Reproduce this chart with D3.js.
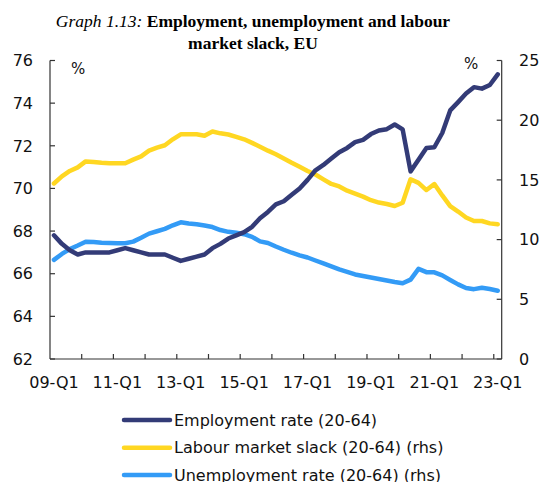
<!DOCTYPE html>
<html><head><meta charset="utf-8">
<script src="https://cdn.jsdelivr.net/npm/d3@7"></script>
<style>body{margin:0;background:#fff}svg{display:block}</style>
</head><body>
<svg id="chart" width="541" height="482"></svg>
<script>
const years = ["09","10","11","12","13","14","15","16","17","18","19","20","21","22","23"];
const quarterNames = ["Q1","Q2","Q3","Q4"];
const tickLabels = ["09-Q1","11-Q1","13-Q1","15-Q1","17-Q1","19-Q1","21-Q1","23-Q1"];
const leftTicks = [62,64,66,68,70,72,74,76];
const rightTicks = [0,5,10,15,20,25];

const employment = [67.8,67.4,67.1,66.9,67.0,67.0,67.0,67.0,67.1,67.2,67.1,67.0,66.9,66.9,66.9,66.75,
  66.6,66.7,66.8,66.9,67.2,67.4,67.65,67.8,67.95,68.2,68.6,68.9,69.25,69.4,69.7,70.0,
  70.4,70.85,71.1,71.4,71.7,71.9,72.17,72.28,72.55,72.72,72.78,73.0,72.77,70.8,71.35,71.9,
  71.93,72.6,73.66,74.05,74.45,74.75,74.68,74.85,75.35];
const slack = [14.7,15.3,15.75,16.05,16.55,16.5,16.43,16.4,16.4,16.4,16.7,16.97,17.45,17.7,17.9,18.4,
  18.82,18.82,18.82,18.7,19.05,18.9,18.8,18.6,18.4,18.1,17.78,17.45,17.15,16.8,16.44,16.1,
  15.75,15.45,15.05,14.66,14.45,14.1,13.85,13.6,13.3,13.1,12.98,12.81,13.09,15.05,14.75,14.15,
  14.65,13.7,12.8,12.35,11.85,11.56,11.56,11.36,11.28];
const unemployment = [8.3,8.8,9.2,9.5,9.82,9.8,9.73,9.72,9.7,9.7,9.83,10.15,10.5,10.7,10.9,11.2,
  11.45,11.35,11.28,11.18,11.05,10.8,10.65,10.57,10.45,10.23,9.85,9.72,9.42,9.15,8.9,8.68,
  8.5,8.25,8.0,7.75,7.5,7.3,7.08,6.95,6.83,6.7,6.58,6.45,6.34,6.65,7.55,7.27,
  7.26,7.0,6.62,6.25,5.95,5.85,5.97,5.86,5.72];

const seriesNames = ["Employment rate (20-64)","Labour market slack (20-64) (rhs)","Unemployment rate (20-64) (rhs)"];
const colors = ["#333b77","#ffd722","#339bf6"];

const categories = [];
years.forEach(y => quarterNames.forEach(q => categories.push(y + "-" + q)));
categories.length = employment.length;

const svg = d3.select("#chart");
const font = "DejaVu Sans, sans-serif";
const L = 50, R = 501.7, T = 60.5, B = 359;

const x = d3.scaleBand().domain(categories).range([L, R]).paddingInner(0).paddingOuter(0);
const yL = d3.scaleLinear().domain([62, 76]).range([B, T]);
const yR = d3.scaleLinear().domain([0, 25]).range([B, T]);
const cx = d => x(d) + x.bandwidth() / 2;

// title
const serif = "Liberation Serif, Times New Roman, serif";
const title = svg.append("text").attr("x", 253).attr("y", 27).attr("text-anchor", "middle")
  .style("font-family", serif).style("font-size", "17.5px").attr("fill", "#000");
title.append("tspan").style("font-style", "italic").text("Graph 1.13: ");
title.append("tspan").style("font-weight", "bold").text("Employment, unemployment and labour");
svg.append("text").attr("x", 253).attr("y", 49).attr("text-anchor", "middle")
  .style("font-family", serif).style("font-size", "17.5px")
  .style("font-weight", "bold").attr("fill", "#000").text("market slack, EU");

const axisColor = "#333";
const gAx = svg.append("g").attr("stroke", axisColor).attr("stroke-width", 1.2);
gAx.append("line").attr("x1", L).attr("x2", L).attr("y1", T).attr("y2", B);
gAx.append("line").attr("x1", R).attr("x2", R).attr("y1", T).attr("y2", B);
gAx.append("line").attr("x1", L).attr("x2", R).attr("y1", B).attr("y2", B);

leftTicks.forEach(t => {
  gAx.append("line").attr("x1", L).attr("x2", L + 5).attr("y1", yL(t)).attr("y2", yL(t));
  svg.append("text").attr("x", 33).attr("y", yL(t)).attr("text-anchor", "end").attr("dy", "0.36em")
    .style("font-family", font).style("font-size", "16px").attr("fill", "#111").text(t);
});
rightTicks.forEach(t => {
  gAx.append("line").attr("x1", R - 5).attr("x2", R).attr("y1", yR(t)).attr("y2", yR(t));
  svg.append("text").attr("x", 519).attr("y", yR(t)).attr("text-anchor", "start").attr("dy", "0.36em")
    .style("font-family", font).style("font-size", "16px").attr("fill", "#111").text(t);
});
categories.forEach((c, i) => {
  if (i % 4 === 0 && i > 0) {
    gAx.append("line").attr("x1", x(c)).attr("x2", x(c)).attr("y1", B).attr("y2", B - 5);
  }
  if (tickLabels.includes(c)) {
    svg.append("text").attr("x", cx(c)).attr("y", 388).attr("text-anchor", "middle")
      .style("font-family", font).style("font-size", "16px").attr("fill", "#111").text(c);
  }
});

svg.append("text").attr("x", 71).attr("y", 69).attr("dy", "0.36em").style("font-family", font)
  .style("font-size", "15px").attr("fill", "#111").text("%");
svg.append("text").attr("x", 464).attr("y", 64).attr("dy", "0.36em").style("font-family", font)
  .style("font-size", "15px").attr("fill", "#111").text("%");

const lineL = d3.line().x((d, i) => cx(categories[i])).y(d => yL(d));
const lineR = d3.line().x((d, i) => cx(categories[i])).y(d => yR(d));
const drawLine = (data, gen, col) => svg.append("path").datum(data).attr("d", gen)
  .attr("fill", "none").attr("stroke", col).attr("stroke-width", 4.5)
  .attr("stroke-linejoin", "round").attr("stroke-linecap", "round");
drawLine(slack, lineR, colors[1]);
drawLine(unemployment, lineR, colors[2]);
drawLine(employment, lineL, colors[0]);

const legY = [420, 447.7, 475];
seriesNames.forEach((n, i) => {
  svg.append("line").attr("x1", 124).attr("x2", 170).attr("y1", legY[i]).attr("y2", legY[i])
    .attr("stroke", colors[i]).attr("stroke-width", 4.5).attr("stroke-linecap", "round");
  svg.append("text").attr("x", 174).attr("y", legY[i]).attr("dy", "0.36em")
    .style("font-family", font).style("font-size", "16px").attr("fill", "#111").text(n);
});
</script>
</body></html>
